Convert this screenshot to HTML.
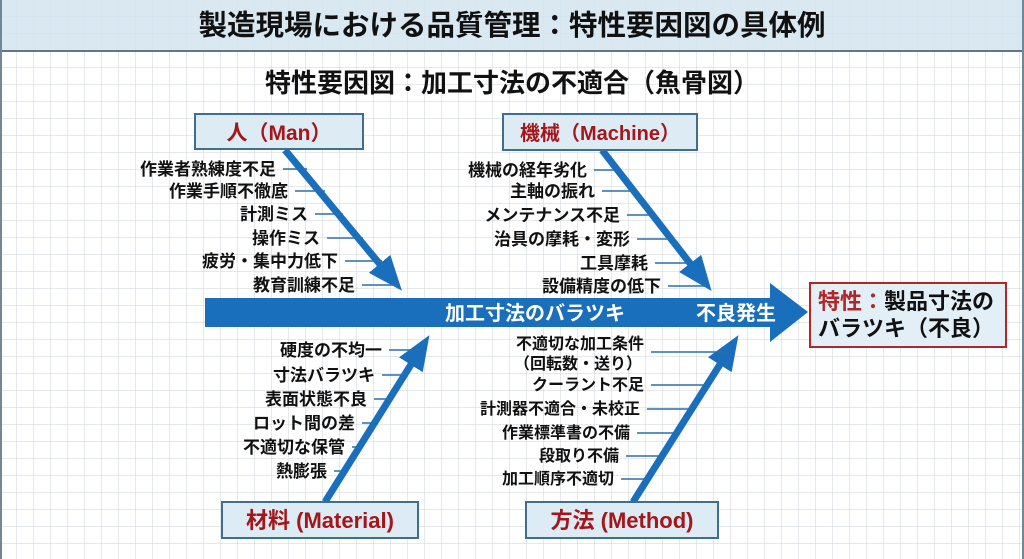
<!DOCTYPE html>
<html><head><meta charset="utf-8"><style>
body{margin:0;width:1024px;height:559px;overflow:hidden;background:#fff}
svg{display:block}
text{font-family:"Liberation Sans","Noto Sans CJK JP",sans-serif;font-weight:bold}
</style></head><body>
<svg width="1024" height="559" viewBox="0 0 1024 559">
<defs>
<pattern id="g" width="17" height="17" patternUnits="userSpaceOnUse" x="0" y="0">
<path d="M17 0V17M0 17H17" stroke="#ccd3d9" stroke-width="1" fill="none"/>
</pattern>
<marker id="ah" markerWidth="5" markerHeight="4" refX="3" refY="2" orient="auto" markerUnits="strokeWidth">
<path d="M0,0 L5,2 L0,4 Z" fill="#1a6fbd"/>
</marker>
</defs>
<rect width="1024" height="559" fill="#fff"/>
<rect width="1024" height="559" fill="url(#g)"/>
<rect x="0" y="0" width="1024" height="51" fill="#d5e6f0" opacity="0.9"/>
<line x1="0" y1="51" x2="1024" y2="51" stroke="#5f7686" stroke-width="2"/>
<line x1="1" y1="0" x2="1" y2="559" stroke="#6f8796" stroke-width="2"/>
<line x1="1023" y1="0" x2="1023" y2="559" stroke="#6f8796" stroke-width="2"/>
<text x="512" y="35" font-size="28.5" text-anchor="middle" fill="#111">製造現場における品質管理：特性要因図の具体例</text>
<text x="512" y="92" font-size="26" text-anchor="middle" fill="#111">特性要因図：加工寸法の不適合（魚骨図）</text>

<!-- spine -->
<rect x="205" y="298" width="568" height="29" fill="#1a6fbd"/>
<polygon points="770,283 808,312 770,342" fill="#1a6fbd"/>
<text x="535" y="320" font-size="20" text-anchor="middle" fill="#fff">加工寸法のバラツキ</text>
<text x="736" y="320" font-size="20" text-anchor="middle" fill="#fff">不良発生</text>

<!-- bones -->
<g stroke="#1a6fbd" stroke-width="7" fill="none" marker-end="url(#ah)">
<line x1="285" y1="150" x2="393" y2="280"/>
<line x1="602" y1="150" x2="703" y2="280"/>
<line x1="325" y1="502" x2="422" y2="347"/>
<line x1="633" y1="502" x2="731" y2="347"/>
</g>

<!-- boxes -->
<rect x="195" y="114" width="168" height="35" fill="#dcebf4" stroke="#3f6f8e" stroke-width="2"/>
<text x="279" y="140" font-size="21" text-anchor="middle" fill="#a5161b">人（Man）</text>
<rect x="503" y="114" width="194" height="36" fill="#dcebf4" stroke="#3f6f8e" stroke-width="2"/>
<text x="600" y="140" font-size="20" text-anchor="middle" fill="#a5161b">機械（Machine）</text>
<rect x="222" y="502" width="196" height="36" fill="#dcebf4" stroke="#3f6f8e" stroke-width="2"/>
<text x="320" y="528" font-size="22" text-anchor="middle" fill="#a5161b">材料 (Material)</text>
<rect x="526" y="502" width="192" height="36" fill="#dcebf4" stroke="#3f6f8e" stroke-width="2"/>
<text x="622" y="528" font-size="22" text-anchor="middle" fill="#a5161b">方法 (Method)</text>

<rect x="810" y="283" width="196" height="64" fill="#e3eff6" stroke="#b0272b" stroke-width="2"/>
<text x="818" y="309" font-size="22" fill="#111"><tspan fill="#b0272b">特性：</tspan>製品寸法の</text>
<text x="818" y="336" font-size="22" fill="#111">バラツキ（不良）</text>

<!-- labels -->
<g font-size="17" fill="#111" text-anchor="end">
<text x="276" y="175">作業者熟練度不足</text>
<text x="288" y="197">作業手順不徹底</text>
<text x="308" y="220">計測ミス</text>
<text x="320" y="244">操作ミス</text>
<text x="338" y="267">疲労・集中力低下</text>
<text x="355" y="291">教育訓練不足</text>

<text x="587" y="176">機械の経年劣化</text>
<text x="595" y="197">主軸の振れ</text>
<text x="620" y="221">メンテナンス不足</text>
<text x="630" y="245">治具の摩耗・変形</text>
<text x="648" y="269">工具摩耗</text>
<text x="661" y="292">設備精度の低下</text>

<text x="382" y="356">硬度の不均一</text>
<text x="375" y="381">寸法バラツキ</text>
<text x="367" y="405">表面状態不良</text>
<text x="355" y="429">ロット間の差</text>
<text x="345" y="453">不適切な保管</text>
<text x="327" y="477">熱膨張</text>
</g>
<g font-size="16" fill="#111" text-anchor="end">
<text x="644" y="349">不適切な加工条件</text>
<text x="642" y="369">（回転数・送り）</text>
<text x="644" y="390">クーラント不足</text>
<text x="640" y="414">計測器不適合・未校正</text>
<text x="630" y="438">作業標準書の不備</text>
<text x="619" y="461">段取り不備</text>
<text x="614" y="484">加工順序不適切</text>
</g>
<g stroke="#2a6fa8" stroke-width="1.5">
<line x1="283" y1="169" x2="307" y2="169"/>
<line x1="295" y1="191" x2="325" y2="191"/>
<line x1="315" y1="214" x2="343" y2="214"/>
<line x1="327" y1="238" x2="363" y2="238"/>
<line x1="345" y1="261" x2="382" y2="261"/>
<line x1="362" y1="285" x2="398" y2="285"/>

<line x1="594" y1="170" x2="617" y2="170"/>
<line x1="602" y1="191" x2="634" y2="191"/>
<line x1="627" y1="215" x2="653" y2="215"/>
<line x1="637" y1="239" x2="672" y2="239"/>
<line x1="655" y1="263" x2="690" y2="263"/>
<line x1="668" y1="286" x2="706" y2="286"/>

<line x1="389" y1="350" x2="420" y2="350"/>
<line x1="382" y1="375" x2="404" y2="375"/>
<line x1="374" y1="399" x2="388" y2="399"/>
<line x1="362" y1="423" x2="373" y2="423"/>
<line x1="352" y1="447" x2="357" y2="447"/>
<line x1="334" y1="471" x2="342" y2="471"/>

<line x1="651" y1="352" x2="727" y2="352"/>
<line x1="651" y1="385" x2="706" y2="385"/>
<line x1="647" y1="409" x2="690" y2="409"/>
<line x1="637" y1="433" x2="675" y2="433"/>
<line x1="626" y1="456" x2="660" y2="456"/>
<line x1="621" y1="479" x2="646" y2="479"/>
</g>
</svg>
</body></html>
